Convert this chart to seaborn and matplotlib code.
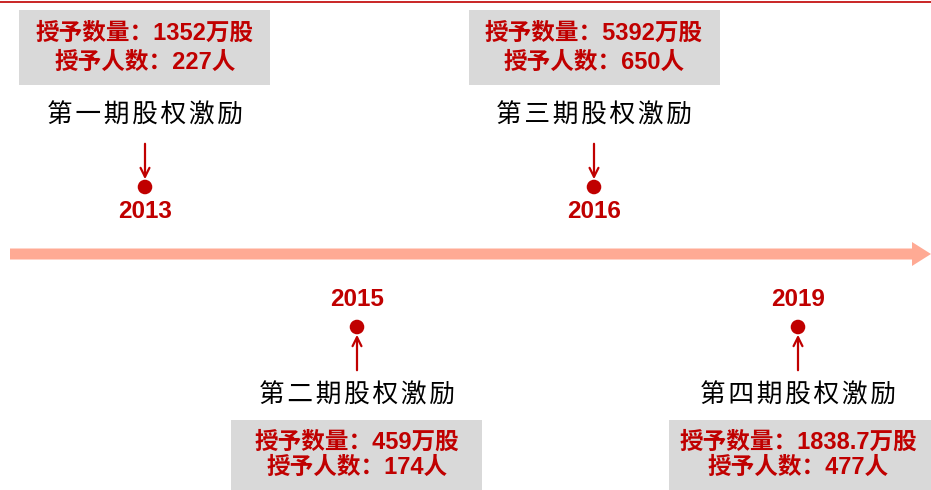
import pandas as pd
import matplotlib
matplotlib.use("Agg")
import matplotlib.pyplot as plt
import seaborn as sns

# DATA
years = ["2013", "2015", "2016", "2019"]
phases = ["第一期股权激励", "第二期股权激励", "第三期股权激励", "第四期股权激励"]
shares = ["1352", "459", "5392", "1838.7"]
people = ["227", "174", "650", "477"]

# LAYOUT (pixel coords, figure is 931x490)
x_pos = [145, 357, 594, 798]
above = [True, False, True, False]
box_left = [19, 231, 469, 669]
box_width = [251, 251, 251, 265]

RED = "#C00000"
SALMON = "#FFAA94"
GREY = "#D9D9D9"

# CONFIG
sns.set_theme(style="white")
plt.rcParams["font.family"] = ["Liberation Sans", "Noto Sans CJK SC", "DejaVu Sans"]

fig = plt.figure(figsize=(9.31, 4.90), dpi=100)
ax = fig.add_axes([0, 0, 1, 1])
ax.set_xlim(0, 931)
ax.set_ylim(490, 0)
ax.axis("off")

# top rule
ax.axhline(2, color=RED, lw=1.2)

# main timeline arrow
ax.arrow(10, 254, 921, 0, width=11, head_width=24, head_length=19,
         length_includes_head=True, color=SALMON, lw=0)

rows = []
for i, yr in enumerate(years):
    x = x_pos[i]
    if above[i]:
        box_top, l1, l2, title_y = 10, 33, 62, 116
        arr_from, arr_to, dot_y, year_y = 141, 182, 187, 211
    else:
        box_top, l1, l2, title_y = 420, 442, 467, 396
        arr_from, arr_to, dot_y, year_y = 373, 332, 327, 299
    rows.append({"x": x, "y": dot_y, "year": yr})

    ax.add_patch(plt.Rectangle((box_left[i], box_top), box_width[i], 75,
                               facecolor=GREY, edgecolor="none"))
    ax.text(x, l1, f"授予数量：{shares[i]}万股", color=RED, fontsize=17,
            fontweight="bold", ha="center", va="center")
    ax.text(x, l2, f"授予人数：{people[i]}人", color=RED, fontsize=17,
            fontweight="bold", ha="center", va="center")
    ax.text(x, title_y, "\u200a".join(phases[i]),
            color="black", fontsize=18.5, ha="center", va="center",
            family=["Noto Sans CJK SC", "DejaVu Sans"])
    ax.annotate("", xy=(x, arr_to), xytext=(x, arr_from),
                arrowprops=dict(arrowstyle="->", color=RED, lw=1.6,
                                mutation_scale=16))
    ax.text(x, year_y, yr, color=RED, fontsize=17.5, fontweight="bold",
            ha="center", va="center")

dots = pd.DataFrame(rows)
sns.scatterplot(data=dots, x="x", y="y", s=110, color=RED, edgecolor="none",
                ax=ax, legend=False)
ax.set_xlim(0, 931)
ax.set_ylim(490, 0)
ax.axis("off")

fig.savefig("out.png", dpi=100)
